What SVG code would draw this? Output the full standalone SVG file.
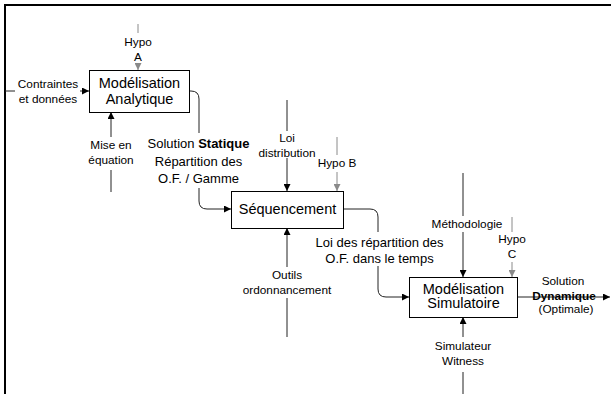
<svg xmlns="http://www.w3.org/2000/svg" width="611" height="394" viewBox="0 0 611 394">
<defs>
<marker id="ab" viewBox="0 0 8 8" refX="8" refY="4" markerWidth="7" markerHeight="7" markerUnits="userSpaceOnUse" orient="auto"><path d="M0,0 L8,4 L0,8 Z" fill="#000"/></marker>
<marker id="ag" viewBox="0 0 8 8" refX="8" refY="4" markerWidth="7" markerHeight="7" markerUnits="userSpaceOnUse" orient="auto"><path d="M0,0 L8,4 L0,8 Z" fill="#8a8a8a"/></marker>
<style>
text{font-family:"Liberation Sans",Arial,sans-serif;fill:#000;text-anchor:middle}
.s{font-size:11.8px}
.m{font-size:13px}
.b{font-size:14.5px}
.bold{font-weight:bold}
.box{fill:#fff;stroke:#000;stroke-width:1}
.c{fill:none;stroke:#222;stroke-width:1}
.g{fill:none;stroke:#8a8a8a;stroke-width:1}
.frame{fill:none;stroke:#000;stroke-width:2}
</style>
</defs>
<path class="frame" d="M5,394 V5 H611"/>
<g id="connectors">
<path class="c" d="M5,91 H15"/>
<path class="c" d="M80,91 H89" marker-end="url(#ab)"/>
<path class="g" d="M138,24 V33"/>
<path class="g" d="M138,63 V70" marker-end="url(#ag)"/>
<path class="c" d="M111,137 V112" marker-end="url(#ab)"/>
<path class="c" d="M111,170 V192"/>
<path class="c" d="M189,91 H191 Q199,91 199,99 V133"/>
<path class="c" d="M199,188 V201 Q199,209 207,209 H231" marker-end="url(#ab)"/>
<path class="c" d="M287,100 V131"/>
<path class="c" d="M287,158 V191" marker-end="url(#ab)"/>
<path class="g" d="M337,137 V155"/>
<path class="g" d="M337,172 V191" marker-end="url(#ag)"/>
<path class="c" d="M287,267 V228" marker-end="url(#ab)"/>
<path class="c" d="M287,298 V337"/>
<path class="c" d="M343,209 H370 Q378,209 378,217 V232"/>
<path class="c" d="M378,266 V289 Q378,297 386,297 H409" marker-end="url(#ab)"/>
<path class="c" d="M463,173 V216"/>
<path class="c" d="M463,232 V277" marker-end="url(#ab)"/>
<path class="g" d="M512,217 V232"/>
<path class="g" d="M512,262 V277" marker-end="url(#ag)"/>
<path class="c" d="M463,337 V317" marker-end="url(#ab)"/>
<path class="c" d="M463,372 V394"/>
<path class="c" d="M517,297 H610" marker-end="url(#ab)"/>
</g>
<g id="node-analytique">
<rect class="box" x="89.5" y="70.5" width="100" height="42"/>
<text class="b" x="139.5" y="87.5">Modélisation</text>
<text class="b" x="139.5" y="104">Analytique</text>
</g>
<g id="node-sequencement">
<rect class="box" x="231.5" y="191.5" width="112" height="37"/>
<text class="b" x="287.5" y="213.5">Séquencement</text>
</g>
<g id="node-simulatoire">
<rect class="box" x="409.5" y="277.5" width="108" height="40"/>
<text class="b" x="463.5" y="293.5">Modélisation</text>
<text class="b" x="463.5" y="308">Simulatoire</text>
</g>
<g id="labels">
<text class="s" x="138" y="46">Hypo</text>
<text class="s" x="138" y="61">A</text>
<text class="s" x="48" y="87.5">Contraintes</text>
<text class="s" x="48" y="102.5">et données</text>
<text class="s" x="111" y="148.5">Mise en</text>
<text class="s" x="111" y="164">équation</text>
<text class="m" x="198.5" y="148">Solution <tspan class="bold">Statique</tspan></text>
<text class="m" x="198.5" y="165.5">Répartition des</text>
<text class="m" x="198.5" y="183">O.F. / Gamme</text>
<text class="s" x="287" y="141.5">Loi</text>
<text class="s" x="287" y="156.5">distribution</text>
<text class="s" x="337" y="166.5">Hypo B</text>
<text class="s" x="287" y="279">Outils</text>
<text class="s" x="287" y="294">ordonnancement</text>
<text class="m" x="379.5" y="247">Loi des répartition des</text>
<text class="m" x="379.5" y="262.5">O.F. dans le temps</text>
<text class="s" x="467" y="227.5">Méthodologie</text>
<text class="s" x="512" y="242.5">Hypo</text>
<text class="s" x="512" y="257.5">C</text>
<text class="s" x="563" y="285">Solution</text>
<text class="s bold" x="564" y="299.5">Dynamique</text>
<text class="s" x="566" y="313">(Optimale)</text>
<text class="s" x="463" y="350">Simulateur</text>
<text class="s" x="463" y="365">Witness</text>
</g>
</svg>
